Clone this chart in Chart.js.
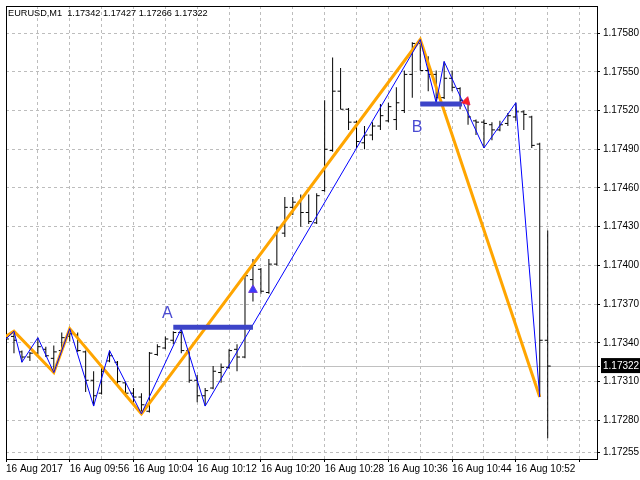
<!DOCTYPE html>
<html>
<head>
<meta charset="utf-8">
<title>EURUSD,M1</title>
<script src="https://cdn.jsdelivr.net/npm/chart.js@4.4.0/dist/chart.umd.min.js"></script>
<style>
  html, body { margin: 0; padding: 0; background: #fff; }
</style>
</head>
<body>
<canvas id="chart" width="640" height="480"></canvas>
<script>
// symbol / timeframe shown in the top-left corner
const symbol = "EURUSD,M1";

// time labels, one every 8 one-minute bars
const xLabels = ["16 Aug 2017", "16 Aug 09:56", "16 Aug 10:04", "16 Aug 10:12", "16 Aug 10:20",
  "16 Aug 10:28", "16 Aug 10:36", "16 Aug 10:44", "16 Aug 10:52"];

// price axis labels
const yTicks = [1.17255, 1.17280, 1.17310, 1.17340, 1.17370, 1.17400, 1.17430,
  1.17460, 1.17490, 1.17520, 1.17550, 1.17580];

// OHLC of the M1 bars, oldest first
const opens = [1.17345, 1.17345, 1.17333, 1.17329, 1.17332, 1.17335, 1.17328, 1.17334, 1.17345, 1.17346,
  1.17333, 1.17311, 1.17301, 1.17326, 1.17325, 1.17309, 1.17301, 1.17298, 1.17287, 1.17331,
  1.17336, 1.17342, 1.17348, 1.17334, 1.17311, 1.17299, 1.17305, 1.17317, 1.17321, 1.17335,
  1.17329, 1.17389, 1.17397, 1.17379, 1.17401, 1.17425, 1.17445, 1.17449, 1.17441, 1.17433,
  1.17458, 1.17489, 1.17535, 1.17521, 1.17511, 1.17495, 1.17501, 1.17508, 1.17512, 1.17513,
  1.17520, 1.17548, 1.17572, 1.17551, 1.17548, 1.17530, 1.17545, 1.17537, 1.17528, 1.17512,
  1.17511, 1.17509, 1.17505, 1.17510, 1.17515, 1.17519, 1.17515, 1.17494, 1.17342];
const highs = [1.17347, 1.17349, 1.17334, 1.17333, 1.17344, 1.17337, 1.17338, 1.17348, 1.17351, 1.17348,
  1.17334, 1.17318, 1.17322, 1.17334, 1.17326, 1.17310, 1.17305, 1.17301, 1.17333, 1.17339,
  1.17345, 1.17349, 1.17351, 1.17335, 1.17315, 1.17305, 1.17322, 1.17324, 1.17335, 1.17339,
  1.17393, 1.17405, 1.17398, 1.17405, 1.17430, 1.17453, 1.17453, 1.17455, 1.17455, 1.17456,
  1.17528, 1.17561, 1.17553, 1.17522, 1.17512, 1.17508, 1.17511, 1.17525, 1.17526, 1.17538,
  1.17551, 1.17573, 1.17575, 1.17562, 1.17551, 1.17558, 1.17551, 1.17538, 1.17529, 1.17513,
  1.17513, 1.17511, 1.17512, 1.17518, 1.17526, 1.17520, 1.17516, 1.17495, 1.17427];
const lows = [1.17328, 1.17332, 1.17325, 1.17326, 1.17331, 1.17329, 1.17317, 1.17333, 1.17341, 1.17333,
  1.17302, 1.17291, 1.17300, 1.17325, 1.17308, 1.17298, 1.17293, 1.17285, 1.17286, 1.17330,
  1.17335, 1.17339, 1.17332, 1.17309, 1.17294, 1.17291, 1.17304, 1.17309, 1.17320, 1.17318,
  1.17328, 1.17372, 1.17378, 1.17378, 1.17400, 1.17422, 1.17439, 1.17430, 1.17432, 1.17432,
  1.17457, 1.17488, 1.17521, 1.17505, 1.17491, 1.17490, 1.17497, 1.17505, 1.17511, 1.17505,
  1.17518, 1.17530, 1.17551, 1.17535, 1.17526, 1.17529, 1.17535, 1.17521, 1.17509, 1.17501,
  1.17491, 1.17497, 1.17504, 1.17508, 1.17512, 1.17505, 1.17491, 1.17298, 1.17266];
const closes = [1.17343, 1.17342, 1.17329, 1.17332, 1.17337, 1.17330, 1.17333, 1.17344, 1.17347, 1.17334,
  1.17311, 1.17299, 1.17318, 1.17330, 1.17310, 1.17301, 1.17298, 1.17292, 1.17332, 1.17337,
  1.17343, 1.17348, 1.17334, 1.17311, 1.17299, 1.17303, 1.17318, 1.17321, 1.17334, 1.17329,
  1.17392, 1.17400, 1.17380, 1.17401, 1.17429, 1.17445, 1.17449, 1.17441, 1.17434, 1.17454,
  1.17490, 1.17535, 1.17521, 1.17511, 1.17496, 1.17501, 1.17508, 1.17516, 1.17523, 1.17526,
  1.17548, 1.17572, 1.17551, 1.17548, 1.17530, 1.17545, 1.17538, 1.17528, 1.17515, 1.17511,
  1.17510, 1.17505, 1.17509, 1.17516, 1.17519, 1.17517, 1.17493, 1.17342, 1.17322];

// small zigzag (blue) : bar index and price of each turn
const zzFastIdx = [0, 1, 2, 4, 6, 8, 11, 13, 17, 22, 25, 52, 54, 55, 60, 64, 67];
const zzFastPrice = [1.17343, 1.17349, 1.17325, 1.17344, 1.17317, 1.17351, 1.17291, 1.17334, 1.17285,
  1.17351, 1.17291, 1.17575, 1.17526, 1.17558, 1.17491, 1.17526, 1.17298];

// big zigzag (orange)
const zzSlowIdx = [0, 1, 6, 8, 17, 52, 67];
const zzSlowPrice = [1.17345, 1.17349, 1.17317, 1.17351, 1.17285, 1.17575, 1.17298];

// levels A and B: start bar, end bar, price
const levelFrom = [21, 52];
const levelTo = [31, 57.25];
const levelPrice = [1.17352, 1.17525];

// level captions
const noteText = ["A", "B"];
const noteIdx = [20.25, 51.6];
const notePrice = [1.17363, 1.17507];

// signal arrows
const buyIdx = [31];
const buyPrice = [1.17381];
const sellIdx = [57.8];
const sellPrice = [1.17527];

const lastClose = closes[closes.length - 1];
const tickFont = { family: "Liberation Sans", size: 10 };
const gridColor = "#bdbdbd";

const header = symbol + "  " + [opens, highs, lows, closes]
  .map(a => a[a.length - 1].toFixed(5)).join(" ");

const notesPlugin = {
  id: "notes",
  afterDatasetsDraw(chart) {
    const { ctx, chartArea, scales } = chart;
    ctx.save();
    ctx.font = '16px "Liberation Sans"';
    ctx.fillStyle = "#4b4bd2";
    ctx.textAlign = "center";
    ctx.textBaseline = "middle";
    noteText.forEach((t, i) => {
      ctx.fillText(t, scales.x.getPixelForValue(noteIdx[i]), scales.y.getPixelForValue(notePrice[i]));
    });
    ctx.font = '9.2px "Liberation Sans"';
    ctx.fillStyle = "#000";
    ctx.textAlign = "left";
    ctx.textBaseline = "top";
    ctx.fillText(header, chartArea.left + 2, chartArea.top + 3);
    ctx.restore();
  }
};

// no extra room around the plot for the outer tick labels
const noPadding = s => {
  s.paddingTop = 0;
  s.paddingBottom = 0;
  s.paddingLeft = 0;
  s.paddingRight = 0;
};

const tickOff = 1.5 / 8;

new Chart(document.getElementById("chart"), {
  type: "scatter",
  data: {
    datasets: [
      {
        type: "scatter",
        data: buyIdx.map((v, i) => ({ x: v, y: buyPrice[i] })),
        pointStyle: "triangle",
        pointRadius: 5,
        pointBackgroundColor: "#3a3aff",
        pointBorderColor: "#6a3ad8",
        pointBorderWidth: 1,
        order: 0
      },
      {
        type: "scatter",
        data: sellIdx.map((v, i) => ({ x: v, y: sellPrice[i] })),
        pointStyle: "triangle",
        pointRadius: 5,
        pointRotation: 255,
        pointBackgroundColor: "#ff2020",
        pointBorderColor: "#e02050",
        pointBorderWidth: 1,
        order: 0
      },
      {
        type: "line",
        data: [{ x: levelFrom[0], y: levelPrice[0] }, { x: levelTo[0], y: levelPrice[0] }],
        borderColor: "#3c44c8",
        borderWidth: 5,
        pointRadius: 0,
        order: 1
      },
      {
        type: "line",
        data: [{ x: levelFrom[1], y: levelPrice[1] }, { x: levelTo[1], y: levelPrice[1] }],
        borderColor: "#3c44c8",
        borderWidth: 5,
        pointRadius: 0,
        order: 1
      },
      {
        type: "line",
        data: zzFastIdx.map((v, i) => ({ x: v, y: zzFastPrice[i] })),
        borderColor: "#0000ff",
        borderWidth: 1,
        pointRadius: 0,
        tension: 0,
        order: 2
      },
      {
        type: "line",
        data: zzSlowIdx.map((v, i) => ({ x: v, y: zzSlowPrice[i] })),
        borderColor: "#ffa500",
        borderWidth: 3,
        pointRadius: 0,
        tension: 0,
        order: 3
      },
      {
        type: "scatter",
        data: opens.map((v, i) => ({ x: i - tickOff, y: v })),
        pointStyle: "line",
        pointRadius: 1.5,
        pointBorderColor: "#000",
        pointBorderWidth: 1,
        order: 4
      },
      {
        type: "scatter",
        data: closes.map((v, i) => ({ x: i + tickOff, y: v })),
        pointStyle: "line",
        pointRadius: 1.5,
        pointBorderColor: "#000",
        pointBorderWidth: 1,
        order: 4
      },
      {
        type: "bar",
        data: highs.map((v, i) => ({ x: i, y: [lows[i], v] })),
        backgroundColor: "#000",
        borderWidth: 0,
        barThickness: 1,
        inflateAmount: 0,
        grouped: false,
        order: 5
      }
    ]
  },
  options: {
    responsive: false,
    devicePixelRatio: 1,
    animation: false,
    events: [],
    layout: { padding: { left: 3.5, top: 3, right: 0, bottom: 0 } },
    plugins: { legend: { display: false }, tooltip: { enabled: false }, title: { display: false } },
    scales: {
      x: {
        type: "linear",
        position: "bottom",
        min: 0,
        max: 74.1875,
        offset: false,
        afterBuildTicks: s => {
          const t = [];
          for (let v = 0; v <= 72; v += 4) t.push({ value: v });
          s.ticks = t;
        },
        afterFit: s => { s.height = 21; noPadding(s); },
        ticks: {
          autoSkip: false,
          maxRotation: 0,
          minRotation: 0,
          align: "start",
          padding: 1,
          color: "#000",
          font: tickFont,
          callback: v => (v % 8 === 0 && xLabels[v / 8]) || ""
        },
        grid: {
          offset: false,
          color: gridColor,
          tickLength: 3,
          tickColor: c => (c.tick && c.tick.value % 8 === 0 ? "#000" : "rgba(0,0,0,0)")
        },
        border: { color: "#000", dash: [3, 3] }
      },
      y: {
        type: "linear",
        position: "right",
        min: 1.17250,
        max: 1.17601,
        afterBuildTicks: s => {
          s.ticks = yTicks.concat([lastClose]).sort((a, b) => a - b).map(v => ({ value: v }));
        },
        afterFit: s => { s.width = 43; noPadding(s); },
        ticks: {
          autoSkip: false,
          padding: 3,
          font: tickFont,
          color: c => (c.tick && c.tick.value === lastClose ? "#fff" : "#000"),
          showLabelBackdrop: c => !!(c.tick && c.tick.value === lastClose),
          backdropColor: "#000",
          backdropPadding: { top: 2, bottom: 1, left: 2, right: 3 },
          callback: v => Number(v).toFixed(5)
        },
        grid: {
          color: c => (c.tick && c.tick.value === lastClose ? "#c0c0c0" : gridColor),
          tickLength: 3,
          tickColor: "#000"
        },
        border: {
          color: "#000",
          dash: c => (c.tick && c.tick.value === lastClose ? [] : [3, 3])
        }
      },
      xTop: {
        type: "linear",
        position: "top",
        min: 0,
        max: 1,
        ticks: { display: false },
        grid: { display: false, drawTicks: false },
        border: { color: "#000" },
        afterFit: s => { s.height = 0; noPadding(s); }
      },
      yLeft: {
        type: "linear",
        position: "left",
        min: 0,
        max: 1,
        ticks: { display: false },
        grid: { display: false, drawTicks: false },
        border: { color: "#000" },
        afterFit: s => { s.width = 0; noPadding(s); }
      }
    }
  },
  plugins: [notesPlugin]
});
</script>
</body>
</html>
